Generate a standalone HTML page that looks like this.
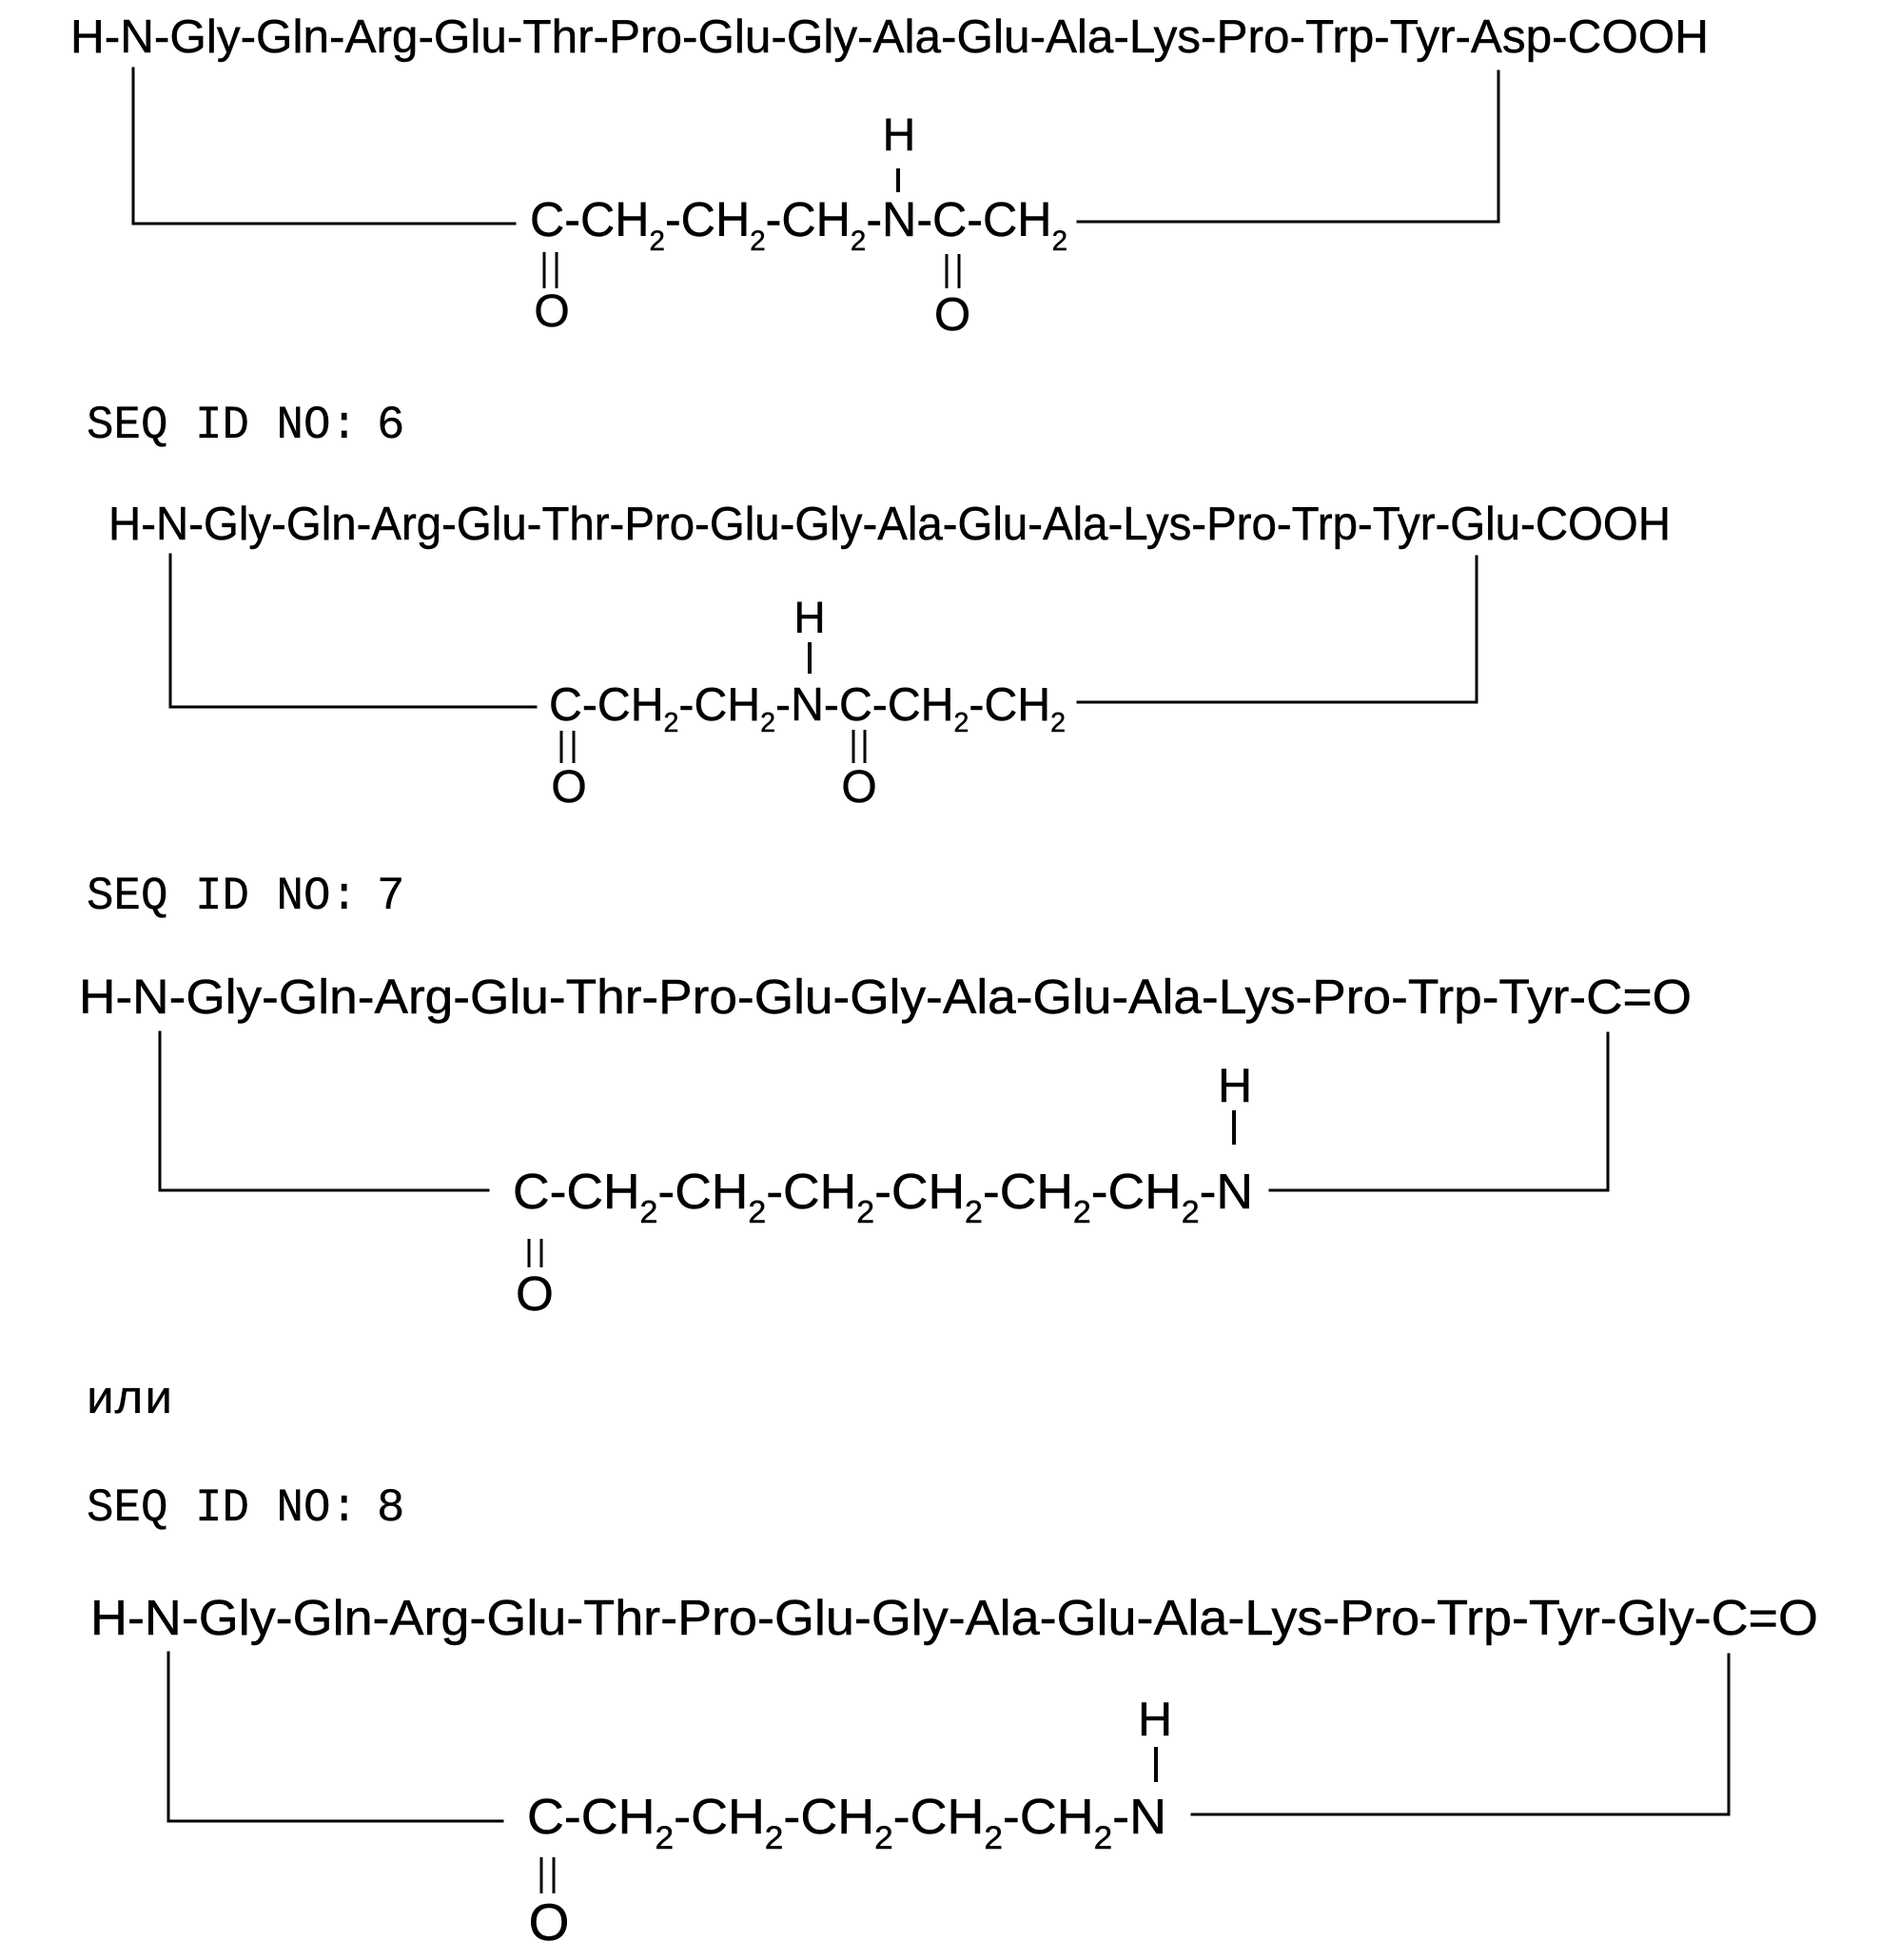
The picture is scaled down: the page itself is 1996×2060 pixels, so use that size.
<!DOCTYPE html>
<html>
<head>
<meta charset="utf-8">
<style>
  html, body { margin: 0; padding: 0; background: #fff; }
  svg { display: block; }
  .s { font-family: "Liberation Sans", Arial, sans-serif; fill: #000; stroke: #000; stroke-width: 0.5; }
  .m { font-family: "Liberation Mono", "Courier New", monospace; fill: #000; stroke: #000; stroke-width: 0.3; }
  .ln { stroke: #000; stroke-width: 3; fill: none; stroke-linecap: square; stroke-linejoin: miter; }
  .bd { stroke: #000; stroke-width: 4; fill: none; }
  .db { stroke: #000; stroke-width: 3; fill: none; }
</style>
</head>
<body>
<svg width="1996" height="2060" viewBox="0 0 1996 2060" xmlns="http://www.w3.org/2000/svg">
  <rect x="0" y="0" width="1996" height="2060" fill="#fff"/>

  <!-- ================= BLOCK 1 ================= -->
  <text class="s" x="74" y="55" font-size="49" textLength="1722" lengthAdjust="spacingAndGlyphs">H-N-Gly-Gln-Arg-Glu-Thr-Pro-Glu-Gly-Ala-Glu-Ala-Lys-Pro-Trp-Tyr-Asp-COOH</text>
  <path class="ln" d="M140,72 V235 H541"/>
  <path class="ln" d="M1133,233 H1575 V75"/>
  <text class="s" x="557" y="248" font-size="51" textLength="565" lengthAdjust="spacingAndGlyphs">C-CH<tspan font-size="30" dy="15">2</tspan><tspan dy="-15">-CH</tspan><tspan font-size="30" dy="15">2</tspan><tspan dy="-15">-CH</tspan><tspan font-size="30" dy="15">2</tspan><tspan dy="-15">-N-C-CH</tspan><tspan font-size="30" dy="15">2</tspan></text>
  <text class="s" x="945" y="158" font-size="48" text-anchor="middle">H</text>
  <line class="bd" x1="944" y1="177" x2="944" y2="202"/>
  <line class="db" x1="572" y1="265" x2="572" y2="303"/>
  <line class="db" x1="585" y1="265" x2="585" y2="303"/>
  <text class="s" x="580" y="343" font-size="48" text-anchor="middle">O</text>
  <line class="db" x1="995" y1="267" x2="995" y2="303"/>
  <line class="db" x1="1008" y1="267" x2="1008" y2="303"/>
  <text class="s" x="1001" y="347" font-size="49" text-anchor="middle">O</text>

  <!-- ================= BLOCK 2 ================= -->
  <text class="m" x="91" y="460" font-size="49" textLength="285" lengthAdjust="spacingAndGlyphs">SEQ ID NO:</text>
  <text class="m" x="396" y="460" font-size="49">6</text>
  <text class="s" x="114" y="567" font-size="49" textLength="1642" lengthAdjust="spacingAndGlyphs">H-N-Gly-Gln-Arg-Glu-Thr-Pro-Glu-Gly-Ala-Glu-Ala-Lys-Pro-Trp-Tyr-Glu-COOH</text>
  <path class="ln" d="M179,583 V743 H563"/>
  <path class="ln" d="M1133,738 H1552 V585"/>
  <text class="s" x="577" y="757" font-size="49" textLength="543" lengthAdjust="spacingAndGlyphs">C-CH<tspan font-size="29" dy="12">2</tspan><tspan dy="-12">-CH</tspan><tspan font-size="29" dy="12">2</tspan><tspan dy="-12">-N-C-CH</tspan><tspan font-size="29" dy="12">2</tspan><tspan dy="-12">-CH</tspan><tspan font-size="29" dy="12">2</tspan></text>
  <text class="s" x="851" y="665" font-size="46" text-anchor="middle">H</text>
  <line class="bd" x1="851" y1="675" x2="851" y2="708"/>
  <line class="db" x1="590" y1="768" x2="590" y2="802"/>
  <line class="db" x1="603" y1="768" x2="603" y2="802"/>
  <text class="s" x="598" y="843" font-size="48" text-anchor="middle">O</text>
  <line class="db" x1="897" y1="767" x2="897" y2="802"/>
  <line class="db" x1="909" y1="767" x2="909" y2="802"/>
  <text class="s" x="903" y="843" font-size="48" text-anchor="middle">O</text>

  <!-- ================= BLOCK 3 ================= -->
  <text class="m" x="91" y="955" font-size="49" textLength="285" lengthAdjust="spacingAndGlyphs">SEQ ID NO:</text>
  <text class="m" x="396" y="955" font-size="49">7</text>
  <text class="s" x="83" y="1065" font-size="51" textLength="1695" lengthAdjust="spacingAndGlyphs">H-N-Gly-Gln-Arg-Glu-Thr-Pro-Glu-Gly-Ala-Glu-Ala-Lys-Pro-Trp-Tyr-C=O</text>
  <path class="ln" d="M168,1085 V1251 H513"/>
  <path class="ln" d="M1335,1251 H1690 V1086"/>
  <text class="s" x="539" y="1270" font-size="52" textLength="778" lengthAdjust="spacingAndGlyphs">C-CH<tspan font-size="33" dy="15">2</tspan><tspan dy="-15">-CH</tspan><tspan font-size="33" dy="15">2</tspan><tspan dy="-15">-CH</tspan><tspan font-size="33" dy="15">2</tspan><tspan dy="-15">-CH</tspan><tspan font-size="33" dy="15">2</tspan><tspan dy="-15">-CH</tspan><tspan font-size="33" dy="15">2</tspan><tspan dy="-15">-CH</tspan><tspan font-size="33" dy="15">2</tspan><tspan dy="-15">-N</tspan></text>
  <text class="s" x="1298" y="1158" font-size="50" text-anchor="middle">H</text>
  <line class="bd" x1="1297" y1="1167" x2="1297" y2="1203"/>
  <line class="db" x1="556" y1="1302" x2="556" y2="1332"/>
  <line class="db" x1="569" y1="1302" x2="569" y2="1332"/>
  <text class="s" x="562" y="1377" font-size="51" text-anchor="middle">O</text>

  <!-- или -->
  <text class="m" x="90" y="1485" font-size="49" textLength="92" lengthAdjust="spacingAndGlyphs">или</text>

  <!-- ================= BLOCK 4 ================= -->
  <text class="m" x="91" y="1598" font-size="49" textLength="285" lengthAdjust="spacingAndGlyphs">SEQ ID NO:</text>
  <text class="m" x="396" y="1598" font-size="49">8</text>
  <text class="s" x="95" y="1718" font-size="52" textLength="1816" lengthAdjust="spacingAndGlyphs">H-N-Gly-Gln-Arg-Glu-Thr-Pro-Glu-Gly-Ala-Glu-Ala-Lys-Pro-Trp-Tyr-Gly-C=O</text>
  <path class="ln" d="M177,1737 V1914 H528"/>
  <path class="ln" d="M1253,1907 H1817 V1739"/>
  <text class="s" x="554" y="1927" font-size="52" textLength="672" lengthAdjust="spacingAndGlyphs">C-CH<tspan font-size="34" dy="16">2</tspan><tspan dy="-16">-CH</tspan><tspan font-size="34" dy="16">2</tspan><tspan dy="-16">-CH</tspan><tspan font-size="34" dy="16">2</tspan><tspan dy="-16">-CH</tspan><tspan font-size="34" dy="16">2</tspan><tspan dy="-16">-CH</tspan><tspan font-size="34" dy="16">2</tspan><tspan dy="-16">-N</tspan></text>
  <text class="s" x="1214" y="1824" font-size="50" text-anchor="middle">H</text>
  <line class="bd" x1="1215" y1="1836" x2="1215" y2="1873"/>
  <line class="db" x1="569" y1="1952" x2="569" y2="1990"/>
  <line class="db" x1="582" y1="1952" x2="582" y2="1990"/>
  <text class="s" x="577" y="2039" font-size="55" text-anchor="middle">O</text>
</svg>
</body>
</html>
